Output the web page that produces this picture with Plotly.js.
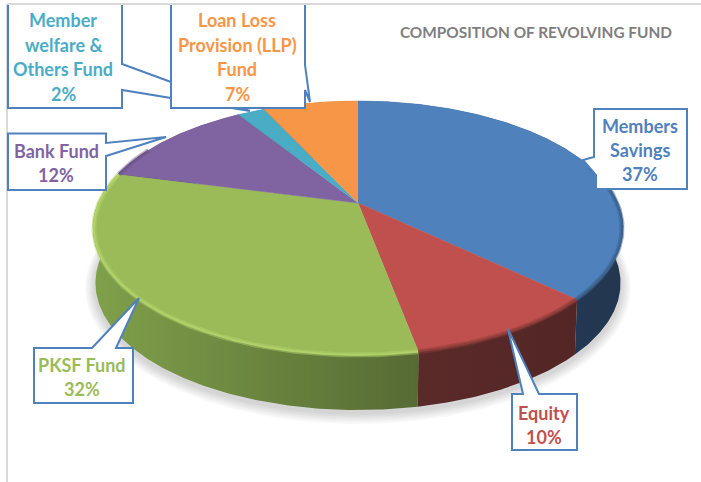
<!DOCTYPE html>
<html><head><meta charset="utf-8">
<script src="https://cdn.plot.ly/plotly-3.0.1.min.js"></script>
<style>html,body{margin:0;padding:0;background:#fff}</style></head>
<body><div id="chart" style="width:701px;height:482px"></div>
<script>
const categories = ["Members<br>Savings","Equity","PKSF Fund","Bank Fund","Member<br>welfare &<br>Others Fund","Loan Loss<br>Provision (LLP)<br>Fund"];
const values = [37,10,32,12,2,7];
const colors = ["#4f81bd","#c0504d","#9bbb59","#8064a2","#4bacc6","#f79646"];
const sideLeft = ["#2b4264","#5a2a29","#80a04a","#4d3c61","#2d6776","#94592a"];
const sideRight = ["#22364f","#532625","#566b34","#4d3c61","#2d6776","#94592a"];
const rimColors = ["#3a5f8a","#8a3b38","#b4d46c","#6a5387","#3f90a6","#cf7d3a"];
const title = "COMPOSITION OF REVOLVING FUND";

// projection of the tilted disc
const G = {cx:358, cy:203, A:122.08, B:260, p:0.1969, depth:55, bottomScale:0.99};
function topPt(t){
  const u=Math.sin(t), v=Math.cos(t), s=1/(1+G.p*v);
  return [G.cx+G.B*u*s, G.cy-G.A*v*s];
}
function botPt(t){
  const q=topPt(t);
  return [G.cx+(q[0]-G.cx)*G.bottomScale, q[1]+G.depth];
}
function arc(t0,t1,fn){
  const n=Math.max(2,Math.ceil((t1-t0)/0.01)), out=[];
  for(let i=0;i<=n;i++) out.push(fn(t0+(t1-t0)*i/n));
  return out;
}
const total = values.reduce((a,b)=>a+b,0);
let acc=0;
const slices = values.map((v,i)=>{const t0=acc/total*2*Math.PI; acc+=v; return {i,t0,t1:acc/total*2*Math.PI};});

const traces=[];
const base={mode:'lines',hoverinfo:'skip',showlegend:false,x:[],y:[]};
// soft shadow
for(let k=6;k>=1;k--){
  const pts=arc(0,2*Math.PI,t=>{const b=botPt(t);return [G.cx+(b[0]-G.cx)*(1+k*0.0065), 286+(b[1]-283)*(1+k*0.012)+k*0.3];});
  traces.push({...base,x:pts.map(p=>p[0]),y:pts.map(p=>p[1]),fill:'toself',fillcolor:'rgba(0,0,0,0.028)',line:{width:0}});
}
// side walls
slices.forEach(s=>{
  const a=arc(s.t0,s.t1,topPt), b=arc(s.t0,s.t1,botPt).reverse(), pts=a.concat(b);
  traces.push({...base,name:categories[s.i].replace(/<br>/g,' ')+' side',x:pts.map(p=>p[0]),y:pts.map(p=>p[1]),fill:'toself',
    fillcolor:sideRight[s.i],
    fillgradient:{type:'horizontal',colorscale:[[0,sideLeft[s.i]],[1,sideRight[s.i]]]},
    line:{width:0}});
});
// top faces
slices.forEach(s=>{
  const pts=[[G.cx,G.cy]].concat(arc(s.t0,s.t1,topPt));
  traces.push({...base,name:categories[s.i].replace(/<br>/g,' '),x:pts.map(p=>p[0]),y:pts.map(p=>p[1]),fill:'toself',fillcolor:colors[s.i],line:{width:0.5,color:colors[s.i]}});
});
// soft bevel along the front rim only
const rimFrom=1.25, rimTo=5.2;
slices.forEach(s=>{
  const a=Math.max(s.t0,rimFrom), b=Math.min(s.t1,rimTo);
  if(b<=a) return;
  const inner=t=>{const q=topPt(t);return [G.cx+(q[0]-G.cx)*0.996,q[1]];};
  const pts=arc(a,b,inner);
  traces.push({...base,x:pts.map(p=>p[0]),y:pts.map(p=>p[1]),opacity:0.45,line:{color:rimColors[s.i],width:5}});
  traces.push({...base,x:pts.map(p=>p[0]),y:pts.map(p=>p[1]),opacity:0.8,line:{color:rimColors[s.i],width:2}});
});

const boxBlue="#4f81bd";
const callouts=[
 {path:"M8,5 L8,108 L122,108 L122,90 L250,111 L122,64 L122,5", idx:4, x:63, ys:[20,45,69,94]},
 {path:"M171,5 L171,108 L305,108 L305,90 L310,102 L305,65 L305,5", idx:5, x:237, ys:[20,45,69,94]},
 {path:"M8,133.5 L106,133.5 L106,143 L166,137 L106,156 L106,190 L8,190 Z", idx:3, x:56, ys:[151,175]},
 {path:"M594,109 L687,109 L687,189 L596,189 L596,175 L583,160 L594,157 Z", idx:0, x:640, ys:[126,150,174]},
 {path:"M34,348 L92,348 L139,298 L116,348 L133,348 L133,403 L34,403 Z", idx:2, x:82, ys:[365,389]},
 {path:"M512,394 L523,394 L508,329 L539,394 L577,394 L577,450 L512,450 Z", idx:1, x:544, ys:[413,437]}
];
const shapes=[
 {type:'line',xref:'x',yref:'y',x0:7,x1:7,y0:4,y1:482,line:{color:'#d9d9d9',width:2},layer:'above'},
 {type:'line',xref:'x',yref:'y',x0:7,x1:701,y0:4,y1:4,line:{color:'#d9d9d9',width:2},layer:'above'}
];
const annotations=[];
callouts.forEach(c=>{
  shapes.push({type:'path',xref:'x',yref:'y',path:c.path,fillcolor:'#ffffff',line:{color:boxBlue,width:2},layer:'above'});
  const lines=categories[c.idx].split('<br>').concat([values[c.idx]+'%']);
  lines.forEach((ln,j)=>annotations.push({xref:'x',yref:'y',x:c.x,y:c.ys[j],text:'<b>'+ln+'</b>',showarrow:false,xanchor:'center',yanchor:'middle',
    font:{family:'Lato, "Noto Sans", sans-serif',size:18,color:colors[c.idx]}}));
});
const layout={
  width:701,height:482,autosize:false,margin:{l:0,r:0,t:0,b:0},
  paper_bgcolor:'#fff',plot_bgcolor:'#fff',showlegend:false,hovermode:false,
  title:{text:'<b>'+title+'</b>',x:536/701,xanchor:'center',xref:'paper',y:1-33/482,yanchor:'middle',yref:'paper',
    font:{family:'Lato, "Noto Sans", sans-serif',size:15.4,color:'#7f7f7f'}},
  xaxis:{range:[0,701],visible:false,fixedrange:true},
  yaxis:{range:[482,0],visible:false,fixedrange:true},
  shapes,annotations
};
Plotly.newPlot('chart',traces,layout,{displayModeBar:false,staticPlot:true});
</script></body></html>
